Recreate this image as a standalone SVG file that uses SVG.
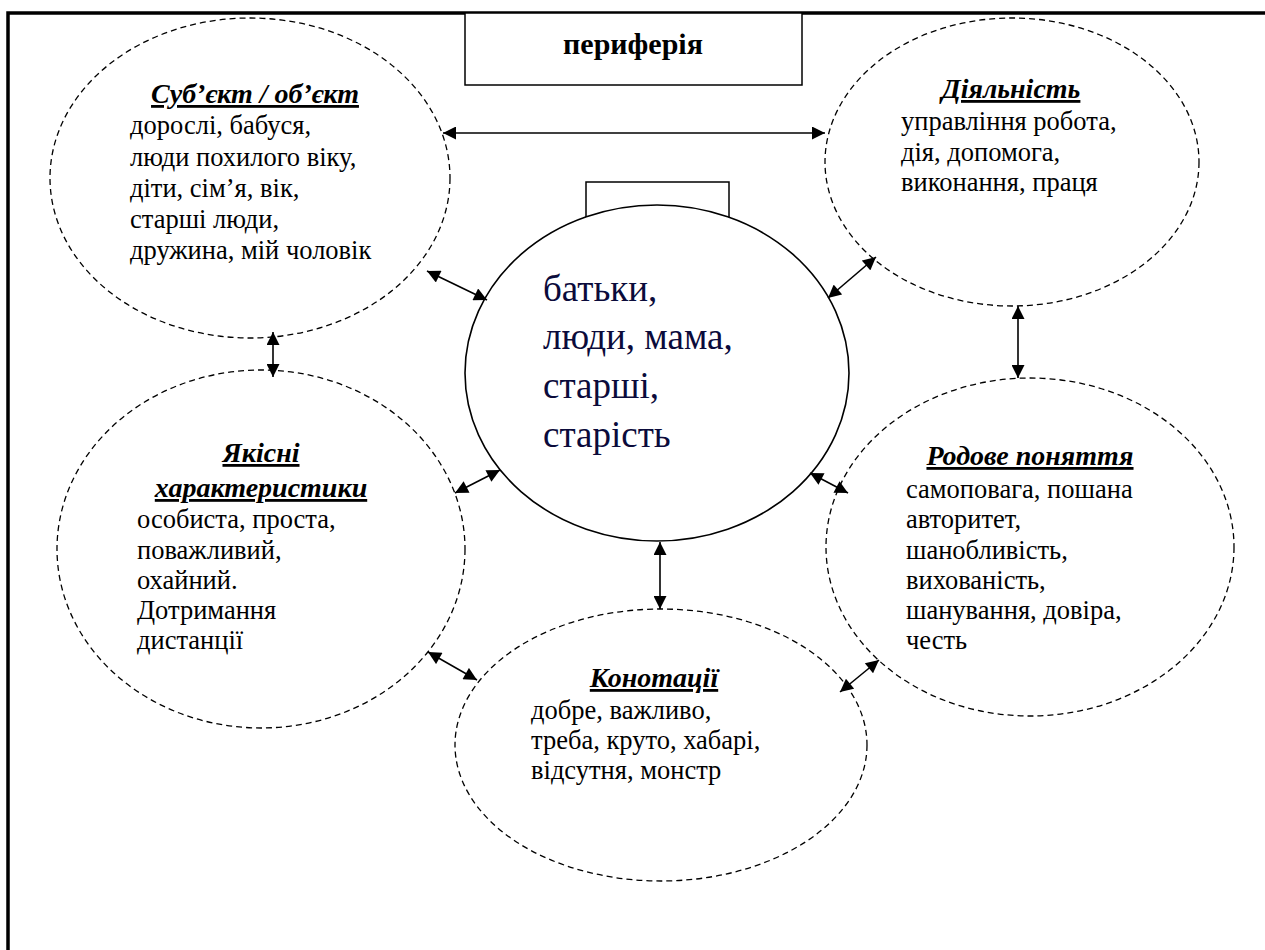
<svg xmlns="http://www.w3.org/2000/svg" width="1265" height="950" viewBox="0 0 1265 950" font-family="Liberation Serif, DejaVu Serif, serif">
<style>
.bg{fill:#fff}
.frame{stroke:#000;stroke-width:3.5;fill:none}
.box{fill:#fff;stroke:#000;stroke-width:1.5}
.dash{fill:none;stroke:#000;stroke-width:1.3;stroke-dasharray:6 4}
.core{fill:#fff;stroke:#000;stroke-width:1.6}
.t{fill:#000}
.title{font-size:28px;font-weight:bold;font-style:italic;text-decoration:underline;text-anchor:middle}
.body{font-size:26.5px}
.core-t{font-size:37px;fill:#0b0b3b}
.per{font-size:30px;font-weight:bold;text-anchor:middle}
.conn line{stroke:#000;stroke-width:1.6;marker-start:url(#a);marker-end:url(#a)}
</style>
<defs>
<marker id="a" viewBox="0 0 10 10" refX="10" refY="5" markerWidth="14" markerHeight="13" markerUnits="userSpaceOnUse" orient="auto-start-reverse"><path d="M0,0 L10,5 L0,10 z" fill="#000"/></marker>
</defs>
<rect class="bg" x="0" y="0" width="1265" height="950"/>
<g id="frame">
<path class="frame" d="M8,950 V13 H1265"/>
</g>
<g id="periphery">
<rect class="box" x="465" y="13" width="337" height="72"/>
<text class="t per" x="633" y="54">периферія</text>
</g>
<g id="subject">
<ellipse class="dash" cx="250" cy="178" rx="200" ry="160"/>
<text class="t title" x="255" y="103">Суб’єкт / об’єкт</text>
<text class="t body"><tspan x="130" y="134">дорослі, бабуся,</tspan><tspan x="130" y="166">люди похилого віку,</tspan><tspan x="130" y="197">діти, сім’я, вік,</tspan><tspan x="130" y="228">старші люди,</tspan><tspan x="130" y="259">дружина, мій чоловік</tspan></text>
</g>
<g id="activity">
<ellipse class="dash" cx="1012" cy="162" rx="187" ry="144"/>
<text class="t title" x="1011" y="98">Діяльність</text>
<text class="t body"><tspan x="901" y="130">управління робота,</tspan><tspan x="901" y="161">дія, допомога,</tspan><tspan x="901" y="191">виконання, праця</tspan></text>
</g>
<g id="core">
<rect class="box" x="586" y="182" width="143" height="50"/>
<ellipse class="core" cx="657" cy="373" rx="192" ry="168"/>
<text class="core-t"><tspan x="543" y="301">батьки,</tspan><tspan x="543" y="349">люди, мама,</tspan><tspan x="543" y="398">старші,</tspan><tspan x="543" y="447">старість</tspan></text>
</g>
<g id="quality">
<ellipse class="dash" cx="261" cy="549" rx="204" ry="179"/>
<text class="t title" x="261" y="462">Якісні</text>
<text class="t title" x="261" y="497">характеристики</text>
<text class="t body"><tspan x="137" y="528">особиста, проста,</tspan><tspan x="137" y="559">поважливий,</tspan><tspan x="137" y="589">охайний.</tspan><tspan x="137" y="619">Дотримання</tspan><tspan x="137" y="649">дистанції</tspan></text>
</g>
<g id="generic">
<ellipse class="dash" cx="1030" cy="547" rx="204" ry="169"/>
<text class="t title" x="1030" y="465">Родове поняття</text>
<text class="t body"><tspan x="906" y="498">самоповага, пошана</tspan><tspan x="906" y="528">авторитет,</tspan><tspan x="906" y="559">шанобливість,</tspan><tspan x="906" y="589">вихованість,</tspan><tspan x="906" y="619">шанування, довіра,</tspan><tspan x="906" y="649">честь</tspan></text>
</g>
<g id="connotations">
<ellipse class="dash" cx="661" cy="745" rx="206" ry="136"/>
<text class="t title" x="654" y="687">Конотації</text>
<text class="t body"><tspan x="531" y="719">добре, важливо,</tspan><tspan x="531" y="749">треба, круто, хабарі,</tspan><tspan x="531" y="779">відсутня, монстр</tspan></text>
</g>
<g id="connectors" class="conn">
<line x1="443" y1="133" x2="825" y2="133"/>
<line x1="427" y1="271" x2="487" y2="300"/>
<line x1="876" y1="257" x2="828" y2="298"/>
<line x1="273" y1="332" x2="273" y2="377"/>
<line x1="1018" y1="306" x2="1018" y2="378"/>
<line x1="455" y1="493" x2="500" y2="470"/>
<line x1="810" y1="473" x2="848" y2="493"/>
<line x1="660" y1="542" x2="660" y2="609"/>
<line x1="428" y1="652" x2="477" y2="680"/>
<line x1="879" y1="660" x2="840" y2="692"/>
</g>
</svg>
